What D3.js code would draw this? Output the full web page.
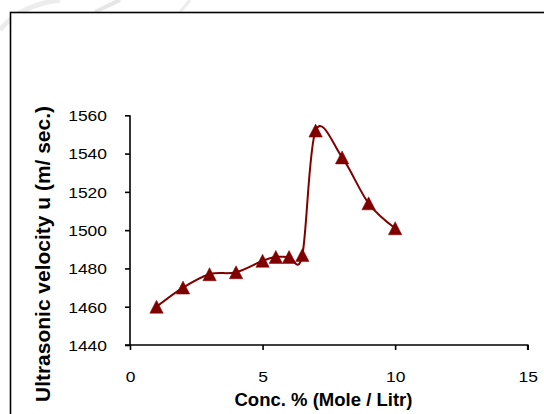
<!DOCTYPE html>
<html><head><meta charset="utf-8">
<script src="https://cdn.jsdelivr.net/npm/d3@7"></script>
<style>
html,body{margin:0;padding:0;background:#fff;}
svg{display:block;}
text{font-family:"Liberation Sans",Arial,sans-serif;fill:#000;}
</style></head>
<body><svg id="c" width="544" height="414"></svg>
<script>
const concentration = [1, 2, 3, 4, 5, 5.5, 6, 6.5, 7, 8, 9, 10];
const velocity = [1460, 1470, 1477, 1478, 1484, 1486, 1486, 1487, 1552, 1538, 1514, 1501];
const xTicks = [0, 5, 10, 15];
const yTicks = [1440, 1460, 1480, 1500, 1520, 1540, 1560];
const xTitle = "Conc. % (Mole / Litr)";
const yTitle = "Ultrasonic velocity u (m/ sec.)";

const svg = d3.select("#c");
const color = "#800000";

// faint watermark strokes outside frame
svg.append("path").attr("d","M0,30 Q20,5 60,0").attr("fill","none").attr("stroke","#ececec").attr("stroke-width",5);
svg.append("path").attr("d","M95,12 L120,0").attr("fill","none").attr("stroke","#e6e6e6").attr("stroke-width",4);
svg.append("path").attr("d","M180,12 L190,0").attr("fill","none").attr("stroke","#ececec").attr("stroke-width",3);

// frame
svg.append("rect").attr("x",10.5).attr("y",12.5).attr("width",600).attr("height",500)
  .attr("fill","#fff").attr("stroke","#000").attr("stroke-width",1.6);

const x = d3.scaleLinear().domain([0,15]).range([130,527.7]);
const y = d3.scaleLinear().domain([1440,1560]).range([345,115.3]);

// axes
const xAxis = svg.append("g").attr("transform",`translate(0,${y(1440)})`)
  .call(d3.axisBottom(x).tickValues(xTicks).tickSize(5).tickPadding(14).tickFormat(d3.format("d")));
const yAxis = svg.append("g").attr("transform",`translate(${x(0)},0)`)
  .call(d3.axisLeft(y).tickValues(yTicks).tickSize(5).tickPadding(18).tickFormat(d3.format("d")));
[xAxis,yAxis].forEach(g=>{
  g.select(".domain").attr("stroke","#000").attr("stroke-width",1.6);
  g.selectAll(".tick line").attr("stroke","#000").attr("stroke-width",1.6);
  g.selectAll(".tick text").attr("font-size",14).attr("fill","#000")
    .attr("font-family","Liberation Sans, Arial, sans-serif")
    .each(function(){ const t=d3.select(this); t.attr("textLength", t.text().length*9.7).attr("lengthAdjust","spacingAndGlyphs"); });
});
xAxis.select(".domain").attr("d",`M${x(0)-5},0H${x(15)}V5`);
yAxis.select(".domain").attr("d",`M0,${y(1560)}V${y(1440)}`);
xAxis.selectAll(".tick text").attr("dy","0.71em").attr("y",27);
yAxis.selectAll(".tick text").attr("x",-23).attr("dy","0.38em");

// line
const pts = concentration.map((c,i)=>[c, velocity[i]]);
const line = d3.line().x(d=>x(d[0])).y(d=>y(d[1])).curve(d3.curveCardinal.tension(0));
svg.append("path").datum(pts).attr("d",line).attr("fill","none").attr("stroke",color).attr("stroke-width",2);

// triangle markers
svg.append("g").selectAll("path").data(pts).join("path")
  .attr("d","M0,-6.5L6.7,6.5L-6.7,6.5Z")
  .attr("transform",d=>`translate(${x(d[0])},${y(d[1])})`)
  .attr("fill",color).attr("stroke",color).attr("stroke-width",0.5);

// titles
svg.append("text").attr("x",323.5).attr("y",406).attr("text-anchor","middle")
  .attr("font-size",17.5).attr("font-weight","bold")
  .attr("textLength",178).attr("lengthAdjust","spacingAndGlyphs").text(xTitle);
svg.append("text").attr("transform","translate(50,254) rotate(-90)").attr("text-anchor","middle")
  .attr("font-size",20).attr("font-weight","bold")
  .attr("textLength",296).attr("lengthAdjust","spacingAndGlyphs").text(yTitle);
</script></body></html>
